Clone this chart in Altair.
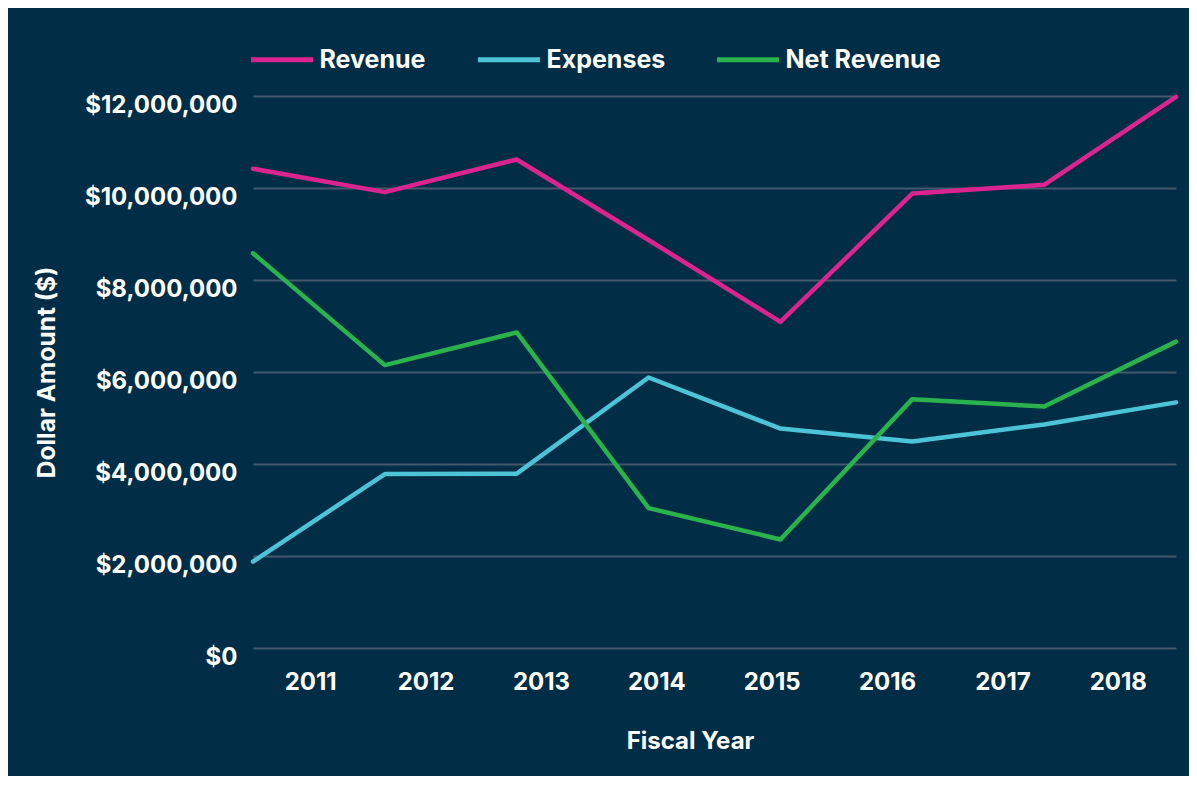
import altair as alt
import pandas as pd

years = ["2011", "2012", "2013", "2014", "2015", "2016", "2017", "2018"]
series = ["Revenue", "Expenses", "Net Revenue"]
revenue = [10420000, 9910000, 10620000, 8870000, 7090000, 9880000, 10070000, 11980000]
expenses = [1880000, 3780000, 3790000, 5880000, 4770000, 4490000, 4860000, 5340000]
net_revenue = [8580000, 6150000, 6860000, 3040000, 2360000, 5410000, 5250000, 6660000]
colors = ["#dc2490", "#4cc3d6", "#2ab24c"]
y_ticks = [0, 2000000, 4000000, 6000000, 8000000, 10000000, 12000000]

rows = []
for name, vals in zip(series, [revenue, expenses, net_revenue]):
    for yr, v in zip(years, vals):
        rows.append({"year": yr, "series": name, "value": v})
df = pd.DataFrame(rows)
years_df = pd.DataFrame({"year": years})

FONT = "Inter"
WHITE = "#ffffff"
BG = "#012d46"

lines = alt.Chart(df).mark_line(
    strokeWidth=4.5, strokeCap="round", strokeJoin="round"
).encode(
    x=alt.X("year:O", scale=alt.Scale(type="point", padding=0), axis=None),
    y=alt.Y(
        "value:Q",
        scale=alt.Scale(domain=[0, 12000000], nice=False),
        axis=alt.Axis(
            values=y_ticks,
            format="$,.0f",
            title="Dollar Amount ($)",
            domain=False,
            ticks=False,
            grid=True,
            gridColor="#45596c",
            gridWidth=2,
            labelFont=FONT,
            labelFontSize=24,
            labelFontWeight="bold",
            labelColor=WHITE,
            labelPadding=16,
            labelBaseline="alphabetic",
            labelOffset=16,
            titleFont=FONT,
            titleFontSize=24.5,
            titleFontWeight="bold",
            titleColor=WHITE,
            titleAngle=270,
            titleX=-206,
            titleY=276,
            titleAlign="center",
            titleBaseline="middle",
        ),
    ),
    color=alt.Color(
        "series:N",
        scale=alt.Scale(domain=series, range=colors),
        sort=series,
        legend=alt.Legend(
            title=None,
            orient="none",
            direction="horizontal",
            legendX=-4.5,
            legendY=-70,
            symbolType="stroke",
            symbolSize=3844,
            symbolStrokeWidth=5,
            labelFont=FONT,
            labelFontSize=25,
            labelFontWeight="bold",
            labelColor=WHITE,
            labelOffset=4,
            columnPadding=41,
            padding=0,
        ),
    ),
)

xaxis_layer = alt.Chart(years_df).mark_point(opacity=0).encode(
    x=alt.X(
        "year:O",
        scale=alt.Scale(type="band", paddingInner=0, paddingOuter=0),
        axis=alt.Axis(
            title="Fiscal Year",
            labelAngle=0,
            domain=False,
            ticks=False,
            grid=False,
            labelFont=FONT,
            labelFontSize=24,
            labelFontWeight="bold",
            labelColor=WHITE,
            labelBaseline="alphabetic",
            labelPadding=41,
            titleFont=FONT,
            titleFontSize=24,
            titleFontWeight="bold",
            titleColor=WHITE,
            titleX=437,
            titleY=100,
            titleAlign="center",
            titleBaseline="alphabetic",
        ),
    )
)

chart = alt.layer(xaxis_layer, lines).resolve_scale(x="independent").properties(
    width=923,
    height=552,
    background=BG,
    padding={"left": 245, "top": 88, "right": 13, "bottom": 128},
    autosize=alt.AutoSizeParams(type="none"),
).configure_view(stroke=None)

chart.save("out.html", embed_options={"renderer": "svg", "actions": False})
